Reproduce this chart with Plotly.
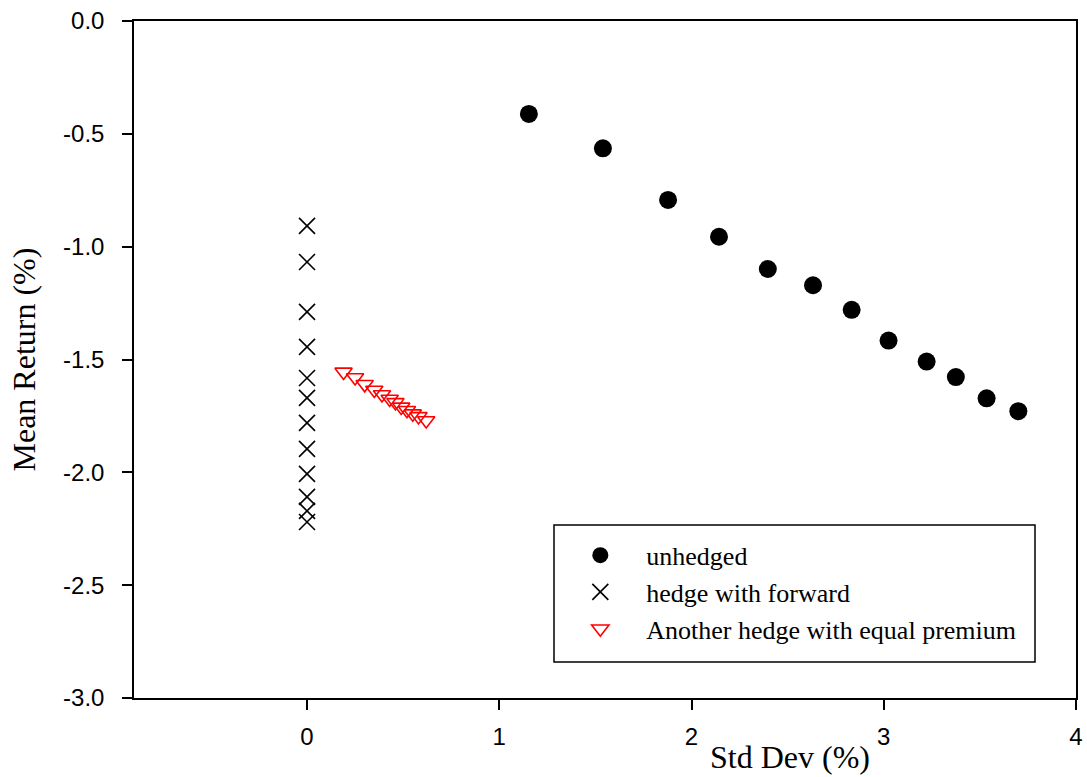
import plotly.graph_objects as go

# Data
unhedged_sd = [1.154, 1.539, 1.878, 2.143, 2.397, 2.632, 2.833, 3.025, 3.223, 3.375, 3.535, 3.700]
unhedged_ret = [-0.412, -0.564, -0.793, -0.956, -1.099, -1.171, -1.280, -1.416, -1.509, -1.578, -1.672, -1.729]

forward_sd = [0, 0, 0, 0, 0, 0, 0, 0, 0, 0, 0, 0]
forward_ret = [-0.908, -1.068, -1.289, -1.444, -1.582, -1.670, -1.781, -1.896, -2.007, -2.109, -2.171, -2.220]

other_sd = [0.19, 0.25, 0.30, 0.35, 0.39, 0.43, 0.46, 0.49, 0.52, 0.55, 0.58, 0.62]
other_ret = [-1.555, -1.580, -1.610, -1.635, -1.655, -1.675, -1.690, -1.710, -1.725, -1.740, -1.752, -1.770]

x_ticks = [0, 1, 2, 3, 4]
y_ticks = [0.0, -0.5, -1.0, -1.5, -2.0, -2.5, -3.0]

SERIF = "Liberation Serif, Times New Roman, serif"
SANS = "Liberation Sans, Arial, sans-serif"
PAD = "\u00a0" * 4

fig = go.Figure()
fig.add_trace(go.Scatter(
    x=unhedged_sd, y=unhedged_ret, mode="markers", name=PAD + "unhedged",
    marker=dict(symbol="circle", size=18, color="black", line=dict(width=0))))
fig.add_trace(go.Scatter(
    x=forward_sd, y=forward_ret, mode="markers", name=PAD + "hedge with forward",
    marker=dict(symbol="x-thin", size=16, color="black", line=dict(width=1.6, color="black"))))
fig.add_trace(go.Scatter(
    x=other_sd, y=other_ret, mode="markers", name=PAD + "Another hedge with equal premium",
    marker=dict(symbol="triangle-down-open", size=15, color="red", line=dict(width=1.6, color="red"))))

fig.update_layout(
    width=1087, height=777,
    margin=dict(l=134, r=11, t=21, b=79, autoexpand=False),
    paper_bgcolor="white", plot_bgcolor="white",
    showlegend=True,
    legend=dict(x=0.4738, y=0.2456, xanchor="left", yanchor="top",
                bgcolor="rgba(0,0,0,0)", borderwidth=0,
                font=dict(family=SERIF, size=26, color="black"),
                tracegroupgap=0),
    xaxis=dict(range=[-0.9, 4], tickvals=x_ticks, ticktext=[str(v) for v in x_ticks],
               showgrid=False, zeroline=False, showline=True, linecolor="black", linewidth=1.5,
               mirror=True, ticks="outside", ticklen=10, tickwidth=1.5, tickcolor="black",
               tickfont=dict(family=SANS, size=24, color="black"), ticklabelstandoff=6),
    yaxis=dict(range=[-3, 0], tickvals=y_ticks, ticktext=[f"{v:.1f}" for v in y_ticks],
               showgrid=False, zeroline=False, showline=True, linecolor="black", linewidth=1.5,
               mirror=True, ticks="outside", ticklen=10, tickwidth=1.5, tickcolor="black",
               tickfont=dict(family=SANS, size=24, color="black"), ticklabelstandoff=13),
    shapes=[dict(type="rect", xref="paper", yref="paper",
                 x0=(554 - 134) / 942, x1=(1035 - 134) / 942,
                 y0=(698 - 662) / 677, y1=(698 - 525) / 677,
                 line=dict(color="black", width=1.5), fillcolor="rgba(0,0,0,0)")],
    annotations=[
        dict(text="Std Dev (%)", xref="paper", yref="paper", x=(790 - 134) / 942,
             y=(698 - 757) / 677, xanchor="center", yanchor="middle", showarrow=False,
             font=dict(family=SERIF, size=32, color="black")),
        dict(text="Mean Return (%)", xref="paper", yref="paper", x=(23 - 134) / 942,
             y=0.5, xanchor="center", yanchor="middle", showarrow=False, textangle=-90,
             font=dict(family=SERIF, size=32, color="black")),
    ],
)

fig.write_html("out.html")
